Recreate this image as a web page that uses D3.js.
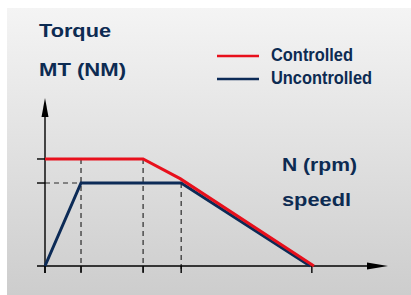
<!DOCTYPE html>
<html>
<head>
<meta charset="utf-8">
<script src="https://cdn.jsdelivr.net/npm/d3@7"></script>
<style>
  html, body { margin: 0; padding: 0; background: #fff; }
  svg { display: block; }
</style>
</head>
<body>
<div id="chart"></div>
<script>
var width = 411;
var height = 295;

// curves (speed in % of axis, torque in % of axis)
var controlledSpeed = [0, 28.6, 39.4, 78.4];
var controlledTorque = [63.7, 63.7, 52.0, 0];
var uncontrolledSpeed = [0, 10.5, 39.7, 77.3];
var uncontrolledTorque = [0, 49.4, 49.4, 0];

var speedTicks = [0, 10.5, 28.6, 39.7, 77.8];
var torqueTicks = [49.4, 63.7];

var seriesNames = ["Controlled", "Uncontrolled"];
var seriesColors = ["#e8101c", "#0c2b57"];

var navy = "#0d2b52";
var font = "'Liberation Sans', Arial, Helvetica, sans-serif";

var x = d3.scaleLinear().domain([0, 100]).range([45, 388]);
var y = d3.scaleLinear().domain([0, 100]).range([266, 98]);

var svg = d3.select("#chart")
  .append("svg")
  .attr("width", width)
  .attr("height", height);

var defs = svg.append("defs");
var grad = defs.append("linearGradient")
  .attr("id", "bg")
  .attr("x1", 0).attr("y1", 0)
  .attr("x2", 0).attr("y2", 1);
grad.append("stop").attr("offset", "0%").attr("stop-color", "#f4f4f4");
grad.append("stop").attr("offset", "100%").attr("stop-color", "#cdcdcd");

svg.append("rect")
  .attr("x", 7)
  .attr("y", 8)
  .attr("width", width - 7)
  .attr("height", height - 8)
  .attr("fill", "url(#bg)");

// dashed guides
var dash = svg.append("g")
  .attr("stroke", "#2a2a2a")
  .attr("stroke-width", 1.2)
  .attr("stroke-dasharray", "5,4")
  .attr("fill", "none");

dash.append("line")
  .attr("x1", x(0)).attr("x2", x(uncontrolledSpeed[1]))
  .attr("y1", y(torqueTicks[0])).attr("y2", y(torqueTicks[0]));

[uncontrolledSpeed[1], controlledSpeed[1]].forEach(function(s) {
  dash.append("line")
    .attr("x1", x(s)).attr("x2", x(s))
    .attr("y1", y(torqueTicks[1])).attr("y2", y(0) + 7);
});
dash.append("line")
  .attr("x1", x(uncontrolledSpeed[2])).attr("x2", x(uncontrolledSpeed[2]))
  .attr("y1", y(torqueTicks[0])).attr("y2", y(0) + 7);

// axes
var axis = svg.append("g")
  .attr("stroke", "#000")
  .attr("stroke-width", 1.4);

axis.append("line")
  .attr("x1", x(0) - 8).attr("x2", x(100) - 10)
  .attr("y1", y(0)).attr("y2", y(0));
axis.append("line")
  .attr("x1", x(0)).attr("x2", x(0))
  .attr("y1", y(0) + 7).attr("y2", y(100) + 10);

axis.selectAll(".ty")
  .data(torqueTicks)
  .enter()
  .append("line")
    .attr("x1", x(0) - 8).attr("x2", x(0))
    .attr("y1", function(d) { return y(d); })
    .attr("y2", function(d) { return y(d); });

axis.selectAll(".tx")
  .data(speedTicks)
  .enter()
  .append("line")
    .attr("x1", function(d) { return x(d); })
    .attr("x2", function(d) { return x(d); })
    .attr("y1", y(0)).attr("y2", y(0) + 7);

// arrowheads
svg.append("path")
  .attr("d", "M" + x(100) + "," + y(0) + "L" + (x(100) - 21) + "," + (y(0) - 3.5) +
    "L" + (x(100) - 21) + "," + (y(0) + 3.5) + "Z")
  .attr("fill", "#000");
svg.append("path")
  .attr("d", "M" + x(0) + "," + y(100) + "L" + (x(0) - 3.5) + "," + (y(100) + 19) +
    "L" + (x(0) + 3.5) + "," + (y(100) + 19) + "Z")
  .attr("fill", "#000");

// curves
var line = d3.line()
  .x(function(d) { return x(d[0]); })
  .y(function(d) { return y(d[1]); });

var uncontrolled = d3.zip(uncontrolledSpeed, uncontrolledTorque);
var controlled = d3.zip(controlledSpeed, controlledTorque);

svg.append("path")
  .datum(uncontrolled)
  .attr("d", line)
  .attr("fill", "none")
  .attr("stroke", seriesColors[1])
  .attr("stroke-width", 3);

svg.append("path")
  .datum(controlled)
  .attr("d", line)
  .attr("fill", "none")
  .attr("stroke", seriesColors[0])
  .attr("stroke-width", 3);

// legend
var legend = svg.append("g");
seriesNames.forEach(function(name, i) {
  var ly = 56 + i * 23;
  legend.append("line")
    .attr("x1", 217).attr("x2", 259)
    .attr("y1", ly).attr("y2", ly)
    .attr("stroke", seriesColors[i])
    .attr("stroke-width", 2.6);
  legend.append("text")
    .attr("x", 271)
    .attr("y", ly + 5)
    .attr("font-family", font)
    .attr("font-weight", "bold")
    .attr("font-size", 19)
    .attr("fill", navy)
    .attr("textLength", i == 0 ? 82 : 101)
    .attr("lengthAdjust", "spacingAndGlyphs")
    .text(name);
});

// titles
var labels = [
  { t: "Torque", x: 39, y: 37, w: 72 },
  { t: "MT (NM)", x: 39, y: 76, w: 87 },
  { t: "N (rpm)", x: 282, y: 171, w: 75 },
  { t: "speedl", x: 282, y: 206, w: 69 }
];
svg.selectAll(".lbl")
  .data(labels)
  .enter()
  .append("text")
    .attr("x", function(d) { return d.x; })
    .attr("y", function(d) { return d.y; })
    .attr("font-family", font)
    .attr("font-weight", "bold")
    .attr("font-size", 19)
    .attr("fill", navy)
    .attr("textLength", function(d) { return d.w; })
    .attr("lengthAdjust", "spacingAndGlyphs")
    .text(function(d) { return d.t; });
</script>
</body>
</html>
